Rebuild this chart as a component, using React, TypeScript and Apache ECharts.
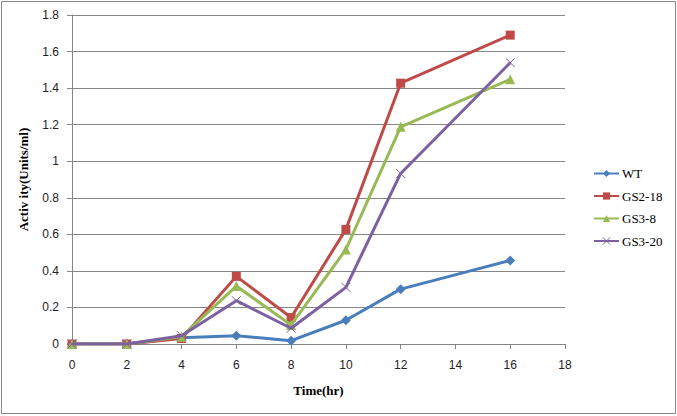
import React, { useEffect, useRef } from "react";
import * as echarts from "echarts";

const hours = [0, 2, 4, 6, 8, 10, 12, 16];
const wt = [0, 0, 0.034, 0.045, 0.018, 0.13, 0.3, 0.457];
const gs218 = [0, 0, 0.03, 0.37, 0.145, 0.627, 1.427, 1.69];
const gs38 = [0, 0, 0.04, 0.317, 0.104, 0.517, 1.188, 1.448];
const gs320 = [0, 0, 0.045, 0.237, 0.086, 0.31, 0.933, 1.539];

const seriesNames = ["WT", "GS2-18", "GS3-8", "GS3-20"];
const seriesColors = ["#4A7EBB", "#BE4B48", "#98B954", "#7D60A0"];
const seriesSymbols = [
  "diamond",
  "rect",
  "triangle",
  "path://M0,0L10,10M10,0L0,10",
];
const seriesValues = [wt, gs218, gs38, gs320];

export default function App() {
  const ref = useRef<HTMLDivElement>(null);
  useEffect(() => {
    if (!ref.current) return;
    const chart = echarts.init(ref.current, null, { renderer: "svg" });
    const series = seriesValues.map((vals, i) => {
      const isCross = i === 3;
      return {
        name: seriesNames[i],
        type: "line",
        data: hours.map((h, j) => [h, vals[j]]),
        symbol: seriesSymbols[i],
        symbolSize: i === 0 ? 10 : i === 2 ? 10 : 9,
        showSymbol: true,
        lineStyle: { color: seriesColors[i], width: 3 },
        itemStyle: isCross
          ? { color: "rgba(0,0,0,0)", borderColor: seriesColors[i], borderWidth: 1 }
          : { color: seriesColors[i], borderColor: seriesColors[i], borderWidth: 0 },
        emphasis: { disabled: true },
        z: 2 + i,
      };
    });
    chart.setOption({
      animation: false,
      backgroundColor: "#ffffff",
      graphic: [
        {
          type: "rect",
          shape: { x: 1.5, y: 1.5, width: 674, height: 412 },
          style: { fill: "none", stroke: "#868686", lineWidth: 1 },
          silent: true,
        },
      ],
      grid: { left: 72, right: 112, top: 15, bottom: 72, containLabel: false },
      legend: {
        orient: "vertical",
        left: 588,
        top: 162,
        itemWidth: 25,
        itemHeight: 9,
        itemGap: 9.5,
        data: seriesNames.map((n, i) => ({
          name: n,
          itemStyle:
            i === 3
              ? { color: "rgba(0,0,0,0)", borderColor: seriesColors[i], borderWidth: 1 }
              : { color: seriesColors[i] },
        })),
        textStyle: {
          fontFamily: "'Liberation Serif', 'Times New Roman', serif",
          fontSize: 13,
          color: "#000",
          padding: [0, 0, 0, -2],
        },
      },
      xAxis: {
        type: "value",
        min: 0,
        max: 18,
        interval: 2,
        name: "Time(hr)",
        nameLocation: "middle",
        nameGap: 40,
        nameTextStyle: {
          fontFamily: "'Liberation Serif', serif",
          fontWeight: "bold",
          fontSize: 13,
          color: "#000",
        },
        axisLine: { show: true, lineStyle: { color: "#868686", width: 1 } },
        axisTick: { show: true, inside: false, length: 5, lineStyle: { color: "#868686" } },
        axisLabel: {
          margin: 15,
          fontFamily: "Liberation Sans",
          fontSize: 12,
          color: "#222",
        },
        splitLine: { show: false },
      },
      yAxis: {
        type: "value",
        min: 0,
        max: 1.8,
        interval: 0.2,
        name: "Activ ity(Units/ml)",
        nameLocation: "middle",
        nameGap: 42,
        nameRotate: 90,
        nameTextStyle: {
          fontFamily: "'Liberation Serif', serif",
          fontWeight: "bold",
          fontSize: 13,
          color: "#000",
        },
        axisLine: { show: true, lineStyle: { color: "#868686", width: 1 } },
        axisTick: { show: true, inside: false, length: 5, lineStyle: { color: "#868686" } },
        axisLabel: {
          margin: 13,
          fontFamily: "Liberation Sans",
          fontSize: 12,
          color: "#222",
        },
        splitLine: { show: true, lineStyle: { color: "#868686", width: 1 } },
      },
      series,
    });
    return () => chart.dispose();
  }, []);
  return (
    <div
      ref={ref}
      style={{ position: "fixed", left: 0, top: 0, width: 677, height: 416 }}
    />
  );
}
